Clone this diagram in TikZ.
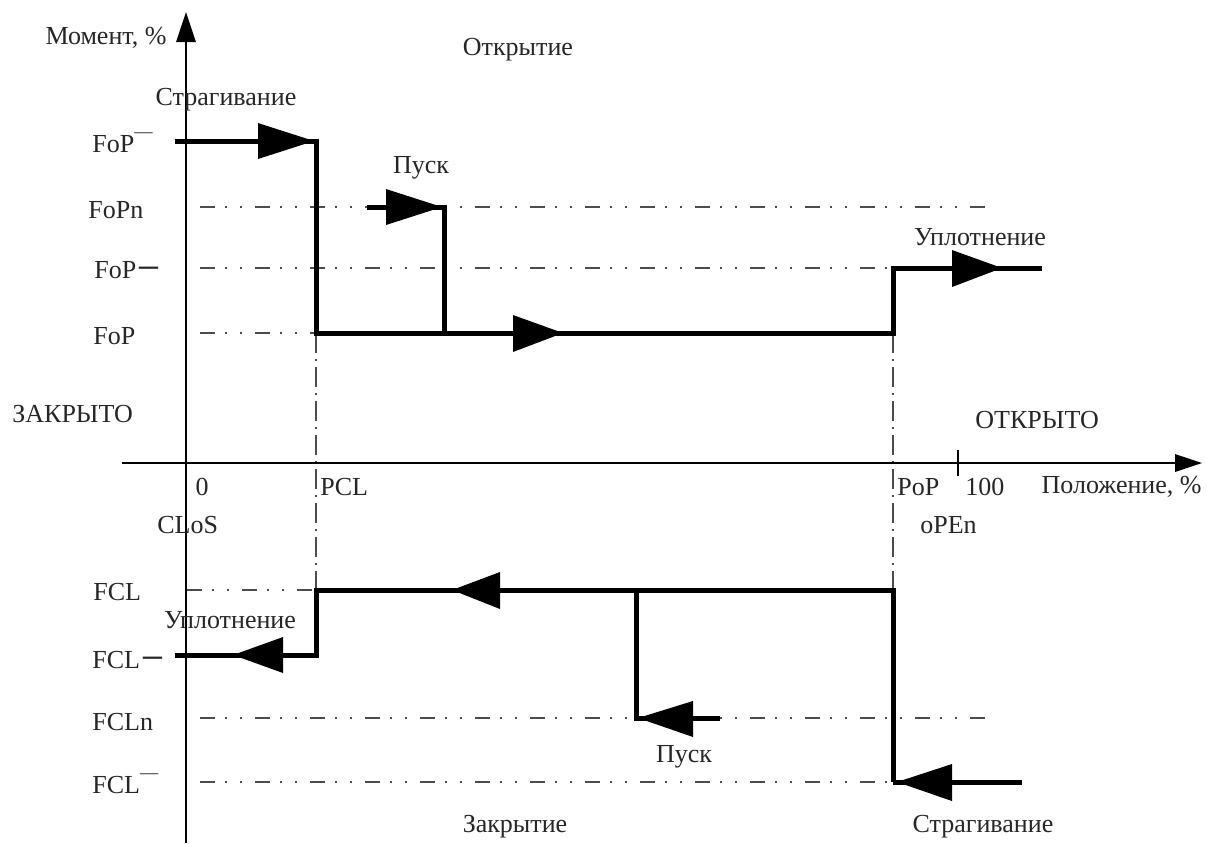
\documentclass[tikz,border=0pt]{standalone}
\usepackage{fontspec}
\setmainfont{Liberation Serif}
\newcommand\supbar{\textsuperscript{\raisebox{0.35em}{—}}}
\newcommand\thickbar{\kern1.5pt\scalebox{1.45}[1.7]{–}}
\begin{document}
\begin{tikzpicture}[x=0.5pt,y=-0.5pt,
  lbl/.style={font=\fontsize{13}{15}\selectfont, inner sep=0pt, text=black!85},
  curve/.style={line width=2.5pt, line join=miter, line cap=butt},
  axisline/.style={line width=0.75pt},
  guide/.style={line width=0.7pt, black!70, dash pattern=on 7.5pt off 5pt on 1pt off 6.5pt on 1pt off 6.5pt},
  vguide/.style={line width=0.7pt, black!70, dash pattern=on 10pt off 3pt on 1pt off 3pt}]
\useasboundingbox (0,0) rectangle (1207,843);
% guides
\draw[guide] (200,207) -- (985,207);
\draw[guide] (200,268) -- (893,268);
\draw[guide] (200,333) -- (316,333);
\draw[guide] (187,590) -- (316,590);
\draw[guide] (200,718) -- (985,718);
\draw[guide] (200,782) -- (893,782);
\draw[vguide] (316,333) -- (316,590);
\draw[vguide] (893,333) -- (893,590);
% axes
\draw[axisline] (186,843) -- (186,40);
\fill (186,12) -- (176,42) -- (196,42) -- cycle;
\draw[axisline] (122,463) -- (1178,463);
\fill (1202,463) -- (1175,454) -- (1175,472) -- cycle;
\draw[axisline] (958,450) -- (958,476);
% opening curve
\draw[curve] (175,141) -- (316,141) -- (316,333) -- (893,333) -- (893,268) -- (1042,268);
\draw[curve] (367,207) -- (444,207) -- (444,333);
\fill (314,141) -- (258,123) -- (258,159) -- cycle;
\fill (563,333) -- (513,315) -- (513,352) -- cycle;
\fill (442,207) -- (386,189) -- (386,225) -- cycle;
\fill (1002,268) -- (952,250) -- (952,287) -- cycle;
% closing curve
\draw[curve] (893,782) -- (893,590) -- (316,590) -- (316,655) -- (175,655);
\draw[curve] (720,718) -- (636,718) -- (636,590);
\draw[curve] (893,782) -- (1022,782);
\fill (452,590) -- (500,572) -- (500,609) -- cycle;
\fill (233,655) -- (283,637) -- (283,673) -- cycle;
\fill (638,718) -- (693,701) -- (693,737) -- cycle;
\fill (897,782) -- (952,764) -- (952,801) -- cycle;
% labels
\node[lbl] (moment) at (106,38) {Момент, \%};
\node[lbl] (otkr) at (518,50) {Открытие};
\node[lbl] (strag1) at (226,100) {Страгивание};
\node[lbl,anchor=west] (fopm) at (92,143) {FoP\supbar};
\node[lbl,anchor=west] (fopn) at (88,210) {FoPn};
\node[lbl,anchor=west] (fopd) at (94,270) {FoP\thickbar};
\node[lbl,anchor=west] (fop) at (93,336) {FoP};
\node[lbl] (pusk1) at (421,168) {Пуск};
\node[lbl] (upl1) at (980,237) {Уплотнение};
\node[lbl,anchor=west] (zakr) at (12,414) {ЗАКРЫТО};
\node[lbl,anchor=west] (otkrto) at (975,420) {ОТКРЫТО};
\node[lbl] (zero) at (202,487) {0};
\node[lbl,anchor=west] (pcl) at (320,487) {PCL};
\node[lbl,anchor=west] (clos) at (157,525) {CLoS};
\node[lbl,anchor=west] (pop) at (897,487) {PoP};
\node[lbl,anchor=west] (hund) at (965,487) {100};
\node[lbl,anchor=east] (pol) at (1202,487) {Положение, \%};
\node[lbl,anchor=west] (open) at (920,525) {oPEn};
\node[lbl,anchor=west] (fcl) at (93,592) {FCL};
\node[lbl] (upl2) at (230,620) {Уплотнение};
\node[lbl,anchor=west] (fcld) at (92,660) {FCL\thickbar};
\node[lbl,anchor=west] (fcln) at (92,722) {FCLn};
\node[lbl] (pusk2) at (684,757) {Пуск};
\node[lbl,anchor=west] (fclm) at (92,784) {FCL\supbar};
\node[lbl] (zakrt) at (515,827) {Закрытие};
\node[lbl] (strag2) at (983,827) {Страгивание};
\end{tikzpicture}
\end{document}
